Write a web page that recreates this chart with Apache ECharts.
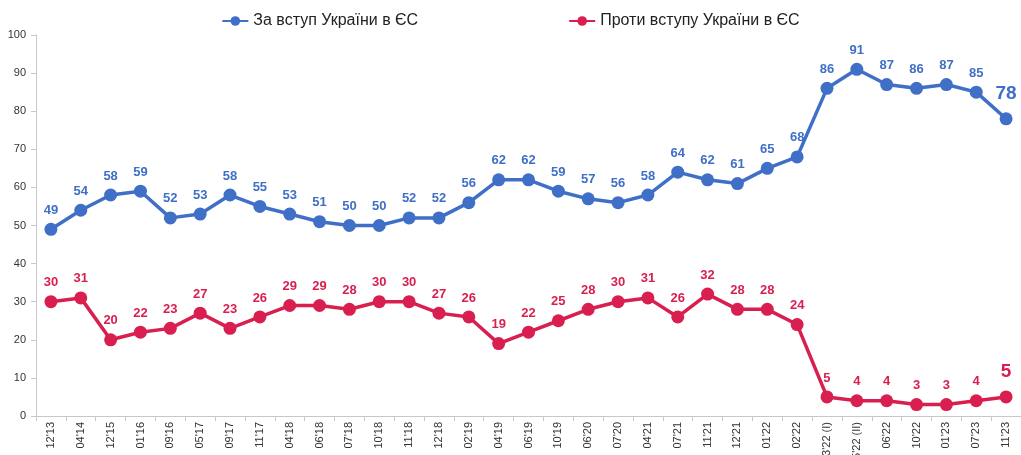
<!DOCTYPE html>
<html>
<head>
<meta charset="utf-8">
<script src="https://cdn.jsdelivr.net/npm/echarts@6/dist/echarts.min.js"></script>
<style>
  html, body { margin: 0; padding: 0; background: #fff; }
  #chart { width: 1021px; height: 455px; }
</style>
</head>
<body>
<div id="chart"></div>
<script>
const categories = [
  "12'13", "04'14", "12'15", "01'16", "09'16", "05'17", "09'17", "11'17",
  "04'18", "06'18", "07'18", "10'18", "11'18", "12'18", "02'19", "04'19",
  "06'19", "10'19", "06'20", "07'20", "04'21", "07'21", "11'21", "12'21",
  "01'22", "02'22", "03'22 (I)", "05'22 (II)", "06'22", "10'22", "01'23", "07'23", "11'23"
]
const forValues = [49, 54, 58, 59, 52, 53, 58, 55, 53, 51, 50, 50, 52, 52, 56, 62,
  62, 59, 57, 56, 58, 64, 62, 61, 65, 68, 86, 91, 87, 86, 87, 85, 78]
const againstValues = [30, 31, 20, 22, 23, 27, 23, 26, 29, 29, 28, 30, 30, 27, 26, 19,
  22, 25, 28, 30, 31, 26, 32, 28, 28, 24, 5, 4, 4, 3, 3, 4, 5]
const yTicks = [0, 10, 20, 30, 40, 50, 60, 70, 80, 90, 100]

const BLUE = '#3f6fc6'
const RED = '#d81f4f'

// last point gets a bigger label
function withLastBig(values) {
  return values.map((v, i) => {
    if (i !== values.length - 1) return v
    return { value: v, label: { fontSize: 19, offset: [0, -3] } }
  })
}

const chart = echarts.init(document.getElementById('chart'))
chart.setOption({
  animation: false,
  textStyle: { fontFamily: 'Liberation Sans, Arial, sans-serif' },
  legend: {
    top: 8,
    left: 'center',
    itemGap: 150,
    itemWidth: 26,
    itemHeight: 12,
    textStyle: { fontSize: 16, color: '#222' },
    data: ['За вступ України в ЄС', 'Проти вступу України в ЄС']
  },
  grid: {
    left: 36,
    right: 0,
    top: 35,
    bottom: 39,
    containLabel: false,
    outerBoundsMode: 'none'
  },
  xAxis: {
    type: 'category',
    data: categories,
    boundaryGap: true,
    axisLine: { lineStyle: { color: '#c8c8c8' } },
    axisTick: { show: true, alignWithLabel: false, lineStyle: { color: '#c8c8c8' }, length: 5 },
    axisLabel: {
      rotate: 90,
      interval: 0,
      fontSize: 11,
      color: '#333',
      margin: 6
    }
  },
  yAxis: {
    type: 'value',
    min: yTicks[0],
    max: yTicks[yTicks.length - 1],
    interval: 10,
    splitLine: { show: false },
    axisLine: { show: true, lineStyle: { color: '#c8c8c8' } },
    axisTick: { show: true, length: 5, lineStyle: { color: '#c8c8c8' } },
    axisLabel: { fontSize: 11, color: '#333', margin: 10 }
  },
  series: [
    {
      name: 'За вступ України в ЄС',
      type: 'line',
      data: withLastBig(forValues),
      color: BLUE,
      symbol: 'circle',
      symbolSize: 13,
      lineStyle: { width: 3.5 },
      label: {
        show: true,
        position: 'top',
        distance: 6,
        fontSize: 13,
        fontWeight: 'bold',
        color: BLUE
      }
    },
    {
      name: 'Проти вступу України в ЄС',
      type: 'line',
      data: withLastBig(againstValues),
      color: RED,
      symbol: 'circle',
      symbolSize: 13,
      lineStyle: { width: 3.5 },
      label: {
        show: true,
        position: 'top',
        distance: 6,
        fontSize: 13,
        fontWeight: 'bold',
        color: RED
      }
    }
  ]
})
</script>
</body>
</html>
